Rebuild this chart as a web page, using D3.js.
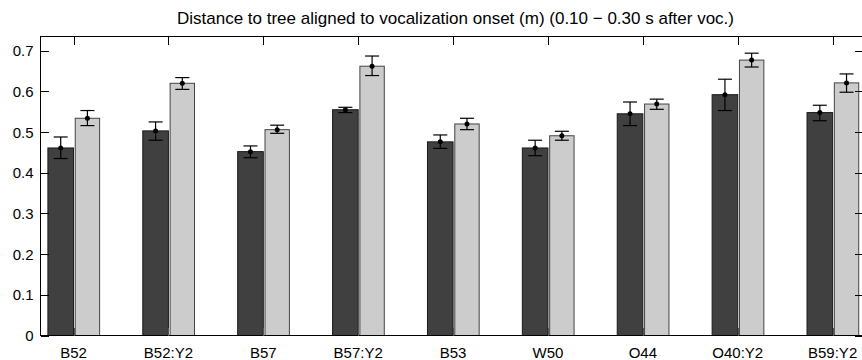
<!DOCTYPE html>
<html lang="en">
<head>
    <meta charset="UTF-8">
    <title>Distance to tree</title>
    <script src="https://d3js.org/d3.v7.min.js"></script>
    <style>
        body { margin: 0; background: #fff; }
        svg { display: block; font-family: "Liberation Sans", Arial, sans-serif; }
    </style>
</head>
<body>
    <svg width="862" height="360"></svg>

    <script>
        // Data
        const categories = ["B52", "B52:Y2", "B57", "B57:Y2", "B53", "W50", "O44", "O40:Y2", "B59:Y2"];
        const meanDark  = [0.461, 0.503, 0.452, 0.555, 0.476, 0.461, 0.545, 0.592, 0.548];
        const loDark    = [0.435, 0.480, 0.437, 0.548, 0.460, 0.442, 0.516, 0.553, 0.528];
        const hiDark    = [0.488, 0.525, 0.466, 0.561, 0.493, 0.480, 0.574, 0.630, 0.566];
        const meanLight = [0.534, 0.620, 0.506, 0.662, 0.520, 0.491, 0.569, 0.677, 0.621];
        const loLight   = [0.516, 0.605, 0.497, 0.639, 0.506, 0.480, 0.556, 0.660, 0.598];
        const hiLight   = [0.553, 0.634, 0.517, 0.687, 0.534, 0.502, 0.581, 0.694, 0.643];
        const yTicks = [0, 0.1, 0.2, 0.3, 0.4, 0.5, 0.6, 0.7];
        const title = "Distance to tree aligned to vocalization onset (m) (0.10 \u2212 0.30 s after voc.)";

        const svg = d3.select("svg");

        // axes box (right edge falls just outside the picture)
        const boxL = 40.5, boxR = 863, boxT = 36.5, boxB = 335.5;

        const x = d3.scaleLinear().domain([0.652, 9.32]).range([boxL, boxR]);
        const y = d3.scaleLinear().domain([0, 0.735]).range([boxB, boxT]);

        const series = [
            {mean: meanDark, lo: loDark, hi: hiDark, x0: -0.27, x1: 0, fill: "#404040", stroke: "#1a1a1a"},
            {mean: meanLight, lo: loLight, hi: hiLight, x0: 0.018, x1: 0.275, fill: "#cccccc", stroke: "#444"}
        ];

        // bars
        series.forEach(s => {
            svg.append("g").selectAll("rect")
               .data(categories)
               .enter()
               .append("rect")
               .attr("x", (d, i) => x(i + 1 + s.x0))
               .attr("width", x(1 + s.x1) - x(1 + s.x0))
               .attr("y", (d, i) => y(s.mean[i]))
               .attr("height", (d, i) => y(0) - y(s.mean[i]))
               .attr("fill", s.fill)
               .attr("stroke", s.stroke)
               .attr("stroke-width", 1);
        });

        // error bars + mean markers
        series.forEach(s => {
            const g = svg.append("g").attr("stroke", "#000").attr("stroke-width", 1.2);
            categories.forEach((c, i) => {
                const cx = x(i + 1 + (s.x0 + s.x1) / 2);
                g.append("line").attr("x1", cx).attr("x2", cx)
                 .attr("y1", y(s.lo[i])).attr("y2", y(s.hi[i]));
                [s.lo[i], s.hi[i]].forEach(v => {
                    g.append("line").attr("x1", cx - 7).attr("x2", cx + 7)
                     .attr("y1", y(v)).attr("y2", y(v));
                });
                g.append("circle").attr("cx", cx).attr("cy", y(s.mean[i]))
                 .attr("r", 2.5).attr("fill", "#000").attr("stroke", "none");
            });
        });

        // frame
        const frame = svg.append("g").attr("stroke", "#000").attr("stroke-width", 1)
                         .attr("shape-rendering", "crispEdges").attr("fill", "none");
        frame.append("rect").attr("x", boxL).attr("y", boxT)
             .attr("width", boxR - boxL).attr("height", boxB - boxT);

        // y ticks, inward on both sides
        yTicks.forEach(t => {
            frame.append("line").attr("x1", boxL).attr("x2", boxL + 8)
                 .attr("y1", Math.round(y(t)) + 0.5).attr("y2", Math.round(y(t)) + 0.5);
            frame.append("line").attr("x1", boxR - 8).attr("x2", boxR)
                 .attr("y1", Math.round(y(t)) + 0.5).attr("y2", Math.round(y(t)) + 0.5);
        });
        // x ticks, inward on top and bottom
        categories.forEach((c, i) => {
            const tx = Math.round(x(i + 1)) + 0.5;
            frame.append("line").attr("x1", tx).attr("x2", tx).attr("y1", boxT).attr("y2", boxT + 8);
            frame.append("line").attr("x1", tx).attr("x2", tx).attr("y1", boxB - 8).attr("y2", boxB)
                 .attr("stroke", "#555");
        });

        // tick labels
        svg.append("g").selectAll("text")
           .data(yTicks)
           .enter()
           .append("text")
           .attr("x", boxL - 7)
           .attr("y", d => y(d) + 5.5)
           .attr("text-anchor", "end")
           .attr("font-size", 15)
           .attr("fill", "#000")
           .text(d => d === 0 ? "0" : d3.format(".1f")(d));

        svg.append("g").selectAll("text")
           .data(categories)
           .enter()
           .append("text")
           .attr("x", (d, i) => x(i + 1))
           .attr("y", 358)
           .attr("text-anchor", "middle")
           .attr("font-size", 15)
           .attr("fill", "#000")
           .text(d => d);

        svg.append("text")
           .attr("x", 455.5)
           .attr("y", 23.5)
           .attr("text-anchor", "middle")
           .attr("font-size", 17)
           .attr("fill", "#000")
           .text(title);
    </script>
</body>
</html>
